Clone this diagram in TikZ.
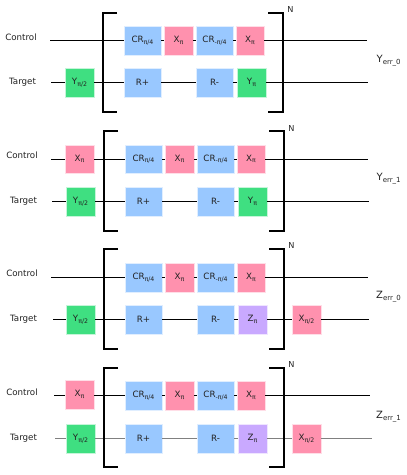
\documentclass[tikz,border=0pt]{standalone}
\usepackage{fontspec}
\setmainfont{DejaVu Sans}
\newcommand{\subt}[1]{\raisebox{-0.35ex}{\fontsize{6.2}{7}\selectfont #1}}
\definecolor{gblue}{HTML}{99C8FF}
\definecolor{gpink}{HTML}{FF91AE}
\definecolor{ggreen}{HTML}{3FDF81}
\definecolor{gpurple}{HTML}{C9A9FF}
\definecolor{ink}{HTML}{222222}
\tikzset{
  x=1pt,y=-1pt,
  gatebox/.style={inner sep=0pt,text=ink,font=\fontsize{8.7}{10}\selectfont,draw=white!70!#1,line width=0.4pt,fill=#1,minimum height=28.5pt},
  wide/.style={gatebox=gblue,minimum width=37pt},
  xg/.style={gatebox=gpink,minimum width=28.5pt},
  yg/.style={gatebox=ggreen,minimum width=28.5pt},
  zg/.style={gatebox=gpurple,minimum width=28.5pt},
  wire/.style={line width=1pt,black},
  greywire/.style={line width=1.6pt,black!50},
  bracket/.style={line width=2pt,black,line cap=butt},
  qlabel/.style={inner sep=0pt,text=ink,font=\fontsize{8.7}{10}\selectfont},
  nlabel/.style={inner sep=0pt,text=ink,font=\fontsize{8.2}{9}\selectfont},
  errlabel/.style={inner sep=0pt,anchor=west,text=ink,font=\fontsize{10}{12}\selectfont},
}
% #1 prefix, #2 x offset, #3 upper wire y, #4 lower wire y, #5 bracket top, #6 bracket bottom, #7 final gate style, #8 final gate text
\newcommand{\innerblock}[8]{
  \node[wide] (#1a) at (142.5+#2,#3) {CR\subt{π/4}};
  \node[xg]   (#1b) at (178.5+#2,#3) {X\subt{π}};
  \node[wide] (#1c) at (214.5+#2,#3) {CR\subt{-π/4}};
  \node[xg]   (#1d) at (250+#2,#3) {X\subt{π}};
  \node[wide] (#1e) at (142.5+#2,#4) {R+};
  \node[wide] (#1f) at (214.5+#2,#4) {R-};
  \node[#7]   (#1g) at (251.5+#2,#4) {#8};
  \coordinate (#1tl) at (117+#2,#5);
  \coordinate (#1ml) at (102.5+#2,#5);
  \coordinate (#1nl) at (102.5+#2,#6);
  \coordinate (#1bl) at (117+#2,#6);
  \coordinate (#1tr) at (268+#2,#5);
  \coordinate (#1mr) at (283+#2,#5);
  \coordinate (#1nr) at (283+#2,#6);
  \coordinate (#1br) at (268+#2,#6);
}
\newcommand{\brackets}[1]{
  \draw[bracket] (#1tl) -- (#1ml) -- (#1nl) -- (#1bl);
  \draw[bracket] (#1tr) -- (#1mr) -- (#1nr) -- (#1br);
}
\begin{document}
\begin{tikzpicture}
\useasboundingbox (0,0) rectangle (407,475);

% Row 1
\innerblock{p}{0}{40.5}{82.5}{12.5}{111.5}{yg}{Y\subt{π}}
\node[yg] (pin) at (79.5,82.5) {Y\subt{π/2}};
\coordinate (pcs) at (50,40.5); \coordinate (pce) at (367,40.5);
\coordinate (pts) at (51,82.5); \coordinate (pte) at (368,82.5);
\begin{scope}[wire]
\draw (pcs) -- (pa); \draw (pa) -- (pb); \draw (pb) -- (pc); \draw (pc) -- (pd); \draw (pd) -- (pce);
\draw (pts) -- (pin); \draw (pin) -- (pe); \draw (pe) -- (pf); \draw (pf) -- (pg); \draw (pg) -- (pte);
\end{scope}
\brackets{p}
\node[qlabel] (pcl) at (21,37) {Control};
\node[qlabel] (ptl) at (22.5,82.7) {Target};
\node[nlabel] (pn) at (290.5,9.5) {N};
\node[errlabel] (perr) at (376.5,60.5) {Y\raisebox{-0.4ex}{\fontsize{7}{8}\selectfont err\_0}};

% Row 2
\innerblock{q}{1}{159}{201.5}{131}{230.5}{yg}{Y\subt{π}}
\node[xg] (qix) at (79.5,159) {X\subt{π}};
\node[yg] (qin) at (80.5,201.5) {Y\subt{π/2}};
\coordinate (qcs) at (51,159); \coordinate (qce) at (368,159);
\coordinate (qts) at (52,201.5); \coordinate (qte) at (369,201.5);
\begin{scope}[wire]
\draw (qcs) -- (qix); \draw (qix) -- (qa); \draw (qa) -- (qb); \draw (qb) -- (qc); \draw (qc) -- (qd); \draw (qd) -- (qce);
\draw (qts) -- (qin); \draw (qin) -- (qe); \draw (qe) -- (qf); \draw (qf) -- (qg); \draw (qg) -- (qte);
\end{scope}
\brackets{q}
\node[qlabel] (qcl) at (22,155.5) {Control};
\node[qlabel] (qtl) at (23.5,201.2) {Target};
\node[nlabel] (qn) at (291.5,128.5) {N};
\node[errlabel] (qerr) at (376.5,178.5) {Y\raisebox{-0.4ex}{\fontsize{7}{8}\selectfont err\_1}};

% Row 3
\innerblock{r}{1}{277.5}{319.5}{249}{348.5}{zg}{Z\subt{π}}
\node[yg] (rin) at (80.5,319.5) {Y\subt{π/2}};
\node[xg] (rix) at (306.5,319.5) {X\subt{π/2}};
\coordinate (rcs) at (51,277.5); \coordinate (rce) at (368,277.5);
\coordinate (rts) at (53,319.5); \coordinate (rte) at (369,319.5);
\begin{scope}[wire]
\draw (rcs) -- (ra); \draw (ra) -- (rb); \draw (rb) -- (rc); \draw (rc) -- (rd); \draw (rd) -- (rce);
\draw (rts) -- (rin); \draw (rin) -- (re); \draw (re) -- (rf); \draw (rf) -- (rg); \draw (rg) -- (rix); \draw (rix) -- (rte);
\end{scope}
\brackets{r}
\node[qlabel] (rcl) at (22,273.5) {Control};
\node[qlabel] (rtl) at (23.5,319.2) {Target};
\node[nlabel] (rn) at (291.5,246) {N};
\node[errlabel] (rerr) at (376,296.5) {Z\raisebox{-0.4ex}{\fontsize{7}{8}\selectfont err\_0}};

% Row 4
\innerblock{s}{1}{395.5}{438.5}{368}{467}{zg}{Z\subt{π}}
\node[xg] (six) at (79.5,394.5) {X\subt{π}};
\node[yg] (sin) at (80.5,438.5) {Y\subt{π/2}};
\node[xg] (sox) at (306.5,438.5) {X\subt{π/2}};
\coordinate (scs) at (54,395.5); \coordinate (sce) at (370,395.5);
\coordinate (sts) at (55,438.5); \coordinate (ste) at (372,438.5);
\begin{scope}[wire]
\draw (scs) -- (scs -| six.west); \draw (scs -| six.east) -- (sa); \draw (sa) -- (sb); \draw (sb) -- (sc); \draw (sc) -- (sd); \draw (sd) -- (sce);
\end{scope}
\begin{scope}[greywire]
\draw (sts) -- (sin); \draw (sin) -- (se); \draw (se) -- (sf); \draw (sf) -- (sg); \draw (sg) -- (sox); \draw (sox) -- (ste);
\end{scope}
\brackets{s}
\node[qlabel] (scl) at (22,392.5) {Control};
\node[qlabel] (stl) at (23.5,438.2) {Target};
\node[nlabel] (sn) at (291.5,365) {N};
\node[errlabel] (serr) at (376,416.5) {Z\raisebox{-0.4ex}{\fontsize{7}{8}\selectfont err\_1}};
\end{tikzpicture}
\end{document}
